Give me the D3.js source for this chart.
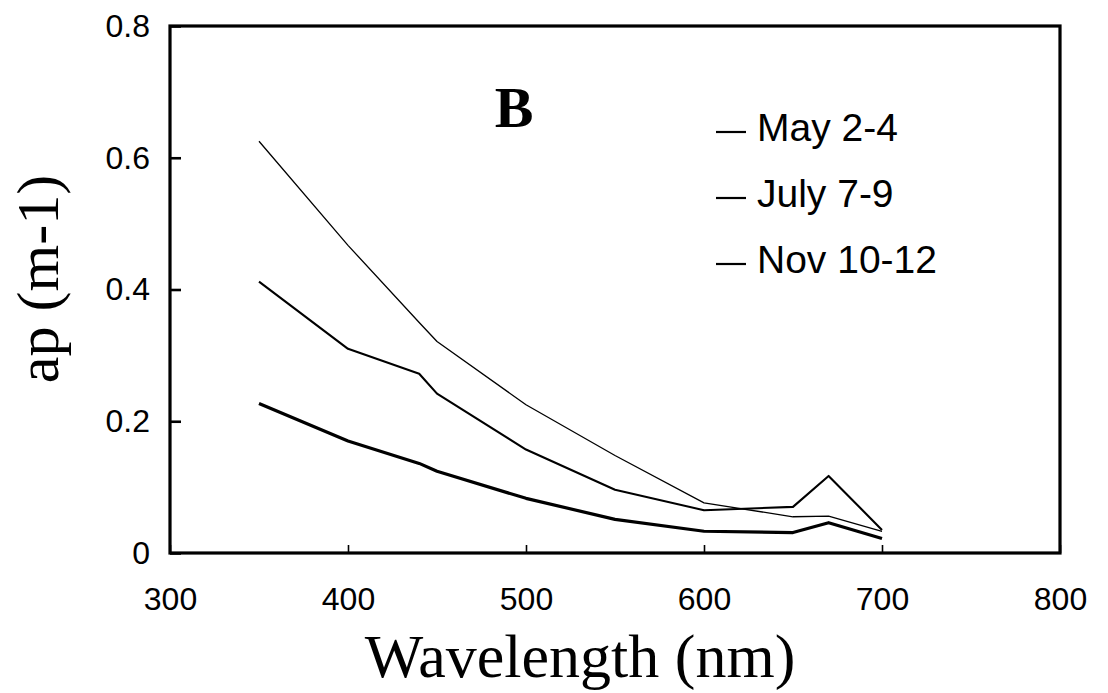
<!DOCTYPE html>
<html>
<head>
<meta charset="utf-8">
<script src="https://cdn.jsdelivr.net/npm/d3@7"></script>
<style>
  body { margin: 0; background: #fff; }
  svg { display: block; }
  .tick text { font-family: "Liberation Sans", Arial, sans-serif; font-size: 32px; fill: #000; }
  .title { font-family: "Liberation Serif", "Times New Roman", serif; fill: #000; }
  .legend text { font-family: "Liberation Sans", Arial, sans-serif; font-size: 39px; fill: #000; }
</style>
</head>
<body>
<div id="chart"></div>
<script>
// wavelengths (nm) and absorption ap (m-1)
const wavelengths = [350, 400, 440, 450, 500, 550, 600, 650, 670, 700];
const mayValues  = [0.227, 0.170, 0.136, 0.124, 0.083, 0.051, 0.033, 0.031, 0.046, 0.022];
const julyValues = [0.412, 0.310, 0.272, 0.242, 0.157, 0.096, 0.065, 0.070, 0.117, 0.035];
const novValues  = [0.625, 0.467, 0.350, 0.321, 0.225, 0.148, 0.076, 0.055, 0.056, 0.033];

const seriesNames = ['May 2-4', 'July 7-9', 'Nov 10-12'];
const xTicks = [300, 400, 500, 600, 700, 800];
const yTicks = [0, 0.2, 0.4, 0.6, 0.8];

const WIDTH = 1108;
const HEIGHT = 693;
const LEFT = 170;
const RIGHT = 1060;
const TOP = 26;
const BOTTOM = 553;

const series = [
  { name: seriesNames[0], values: mayValues, width: 3.2 },
  { name: seriesNames[1], values: julyValues, width: 2.1 },
  { name: seriesNames[2], values: novValues, width: 1.3 },
];

const $svg = d3.select('#chart').append('svg')
  .attr('width', WIDTH)
  .attr('height', HEIGHT);

const x = d3.scaleLinear().domain([300, 800]).range([LEFT, RIGHT]);
const y = d3.scaleLinear().domain([0, 0.8]).range([BOTTOM, TOP]);

// axes, ticks pointing inward
const $xAxis = $svg.append('g')
  .attr('transform', `translate(0,${BOTTOM})`)
  .call(d3.axisBottom(x).tickValues(xTicks).tickSize(-8).tickPadding(34).tickFormat(d3.format('d')));
$xAxis.select('.domain').remove();
$xAxis.selectAll('.tick line').attr('stroke', '#000').attr('stroke-width', 1.6);

const $yAxis = $svg.append('g')
  .attr('transform', `translate(${LEFT},0)`)
  .call(d3.axisLeft(y).tickValues(yTicks).tickSize(-11).tickPadding(20)
    .tickFormat(d => d === 0 ? '0' : d3.format('.1f')(d)));
$yAxis.select('.domain').remove();
$yAxis.selectAll('.tick line').attr('stroke', '#000').attr('stroke-width', 2.6);

// lines
const line = d3.line()
  .x((d, i) => x(wavelengths[i]))
  .y(d => y(d));

$svg.append('g').selectAll('path')
  .data(series)
  .join('path')
  .attr('d', d => line(d.values))
  .attr('fill', 'none')
  .attr('stroke', '#000')
  .attr('stroke-width', d => d.width)
  .attr('stroke-linejoin', 'round');

// frame
$svg.append('rect')
  .attr('x', LEFT).attr('y', TOP)
  .attr('width', RIGHT - LEFT).attr('height', BOTTOM - TOP)
  .attr('fill', 'none')
  .attr('stroke', '#000')
  .attr('stroke-width', 3.2);

// panel letter
$svg.append('text')
  .attr('class', 'title')
  .attr('x', 514).attr('y', 127)
  .attr('text-anchor', 'middle')
  .style('font-size', '58px')
  .style('font-weight', 'bold')
  .text('B');

// legend
const $legend = $svg.append('g').attr('class', 'legend');
const $rows = $legend.selectAll('g')
  .data(seriesNames)
  .join('g')
  .attr('transform', (d, i) => `translate(716,${141 + i * 66})`);
$rows.append('line')
  .attr('x1', 0).attr('x2', 30)
  .attr('y1', -9).attr('y2', -9)
  .attr('stroke', '#000')
  .attr('stroke-width', 2.2);
$rows.append('text')
  .attr('x', 41)
  .text(d => d);

// axis titles
$svg.append('text')
  .attr('class', 'title')
  .attr('x', 580).attr('y', 677)
  .attr('text-anchor', 'middle')
  .style('font-size', '62px')
  .text('Wavelength (nm)');

$svg.append('text')
  .attr('class', 'title')
  .attr('transform', 'translate(58,279) rotate(-90)')
  .attr('text-anchor', 'middle')
  .style('font-size', '60px')
  .text('ap (m-1)');
</script>
</body>
</html>
